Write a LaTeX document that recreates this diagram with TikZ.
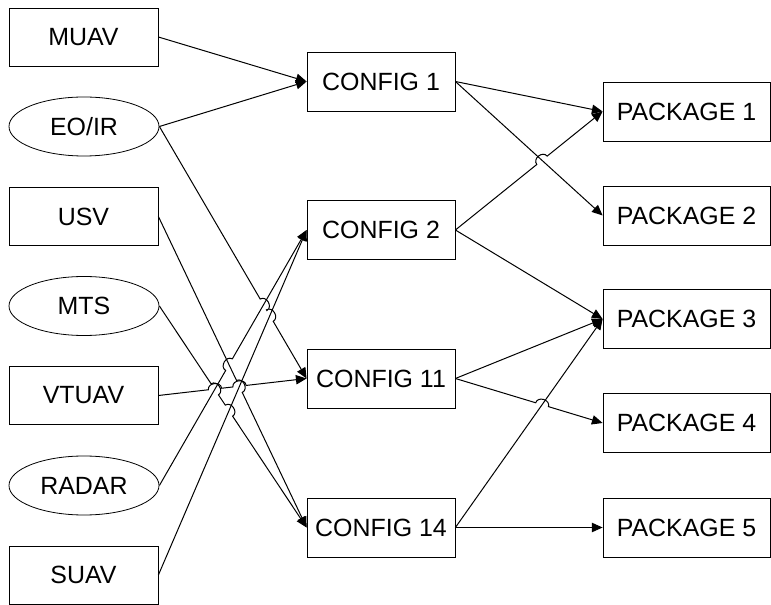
\documentclass[tikz,border=0pt]{standalone}
\usepackage{fontspec}
\setmainfont{Liberation Sans}
\usetikzlibrary{arrows.meta,shapes.geometric,calc,intersections}
\newcommand\hopr{5pt}
\begin{document}
\begin{tikzpicture}[x=0.75pt,y=-0.75pt,
  every node/.style={font=\fontsize{18.7pt}{22pt}\selectfont, inner sep=0pt},
  srcbox/.style={draw, line width=0.6pt, minimum width=111.75pt, minimum height=43.5pt},
  srcell/.style={draw, ellipse, line width=0.6pt, minimum width=112.5pt, minimum height=44.25pt},
  cfgbox/.style={draw, line width=0.6pt, minimum width=111pt, minimum height=44.25pt},
  pkgbox/.style={draw, line width=0.6pt, minimum width=125.25pt, minimum height=44.25pt},
  conn/.style={line width=0.75pt, -{Triangle[length=8pt,width=7pt]}},
  hop/.style={bend left=90, looseness=1.4}]
\useasboundingbox (0,0) rectangle (771,605);

% left column
\node[srcbox] (muav)  at (83.5,37)    {MUAV};
\node[srcell] (eoir)  at (84,126.5)   {EO/IR};
\node[srcbox] (usv)   at (83.5,216.5) {USV};
\node[srcell] (mts)   at (84,306)     {MTS};
\node[srcbox] (vtuav) at (83.5,395.5) {VTUAV};
\node[srcell] (radar) at (84,485.5)   {RADAR};
\node[srcbox] (suav)  at (83.5,575)   {SUAV};

% middle column
\node[cfgbox] (c1)  at (381,81.5)  {CONFIG 1};
\node[cfgbox] (c2)  at (381,230)   {CONFIG 2};
\node[cfgbox] (c11) at (381,378.5) {CONFIG 11};
\node[cfgbox] (c14) at (381,527.5) {CONFIG 14};

% right column
\node[pkgbox] (p1) at (686.5,111.5) {PACKAGE 1};
\node[pkgbox] (p2) at (686.5,215.5) {PACKAGE 2};
\node[pkgbox] (p3) at (686.5,319)   {PACKAGE 3};
\node[pkgbox] (p4) at (686.5,423)   {PACKAGE 4};
\node[pkgbox] (p5) at (686.5,527.5) {PACKAGE 5};

% invisible guide paths for crossings
\path[name path=l1] (eoir.east) -- (c11.west);
\path[name path=l2] (usv.east) -- (c14.west);
\path[name path=l3] (mts.east) -- (c14.west);
\path[name path=l4] (vtuav.east) -- (c11.west);
\path[name path=l5] (radar.east) -- (c2.west);
\path[name path=l6] (suav.east) -- (c2.west);
\path[name path=r2] (c1.east) -- (p2.west);
\path[name path=r3] (c2.east) -- (p1.west);
\path[name path=r6] (c11.east) -- (p4.west);
\path[name path=r7] (c14.east) -- (p3.west);

\path[name intersections={of=l1 and l5, by={x15}}];
\path[name intersections={of=l1 and l6, by={x16}}];
\path[name intersections={of=l2 and l5, by={x25}}];
\path[name intersections={of=l2 and l6, by={x26}}];
\path[name intersections={of=l3 and l5, by={x35}}];
\path[name intersections={of=l3 and l6, by={x36}}];
\path[name intersections={of=l4 and l5, by={x45}}];
\path[name intersections={of=l4 and l6, by={x46}}];
\path[name intersections={of=r2 and r3, by={y23}}];
\path[name intersections={of=r6 and r7, by={y67}}];

% left connectors
\draw[conn] (muav.east) -- (c1.west);
\draw[conn] (eoir.east) -- (c1.west);
\draw[conn] (eoir.east) -- ($(x15)!\hopr!(eoir.east)$) to[hop] ($(x15)!\hopr!(c11.west)$)
   -- ($(x16)!\hopr!(eoir.east)$) to[hop] ($(x16)!\hopr!(c11.west)$) -- (c11.west);
\draw[conn] (usv.east) -- ($(x26)!\hopr!(usv.east)$) to[hop] ($(x26)!\hopr!(c14.west)$) -- (c14.west);
\draw[conn] (mts.east) -- ($(x35)!\hopr!(mts.east)$) to[hop] ($(x35)!\hopr!(c14.west)$)
   -- ($(x36)!\hopr!(mts.east)$) to[hop] ($(x36)!\hopr!(c14.west)$) -- (c14.west);
\draw[conn] (vtuav.east) -- ($(x45)!\hopr!(vtuav.east)$) to[hop] ($(x45)!\hopr!(c11.west)$)
   -- ($(x46)!\hopr!(vtuav.east)$) to[hop] ($(x46)!\hopr!(c11.west)$) -- (c11.west);
\draw[conn] (radar.east) -- ($(x25)!\hopr!(radar.east)$) to[hop] ($(x25)!\hopr!(c2.west)$) -- (c2.west);
\draw[conn] (suav.east) -- (c2.west);

% right connectors
\draw[conn] (c1.east) -- (p1.west);
\draw[conn] (c1.east) -- (p2.west);
\draw[conn] (c2.east) -- ($(y23)!\hopr!(c2.east)$) to[hop] ($(y23)!\hopr!(p1.west)$) -- (p1.west);
\draw[conn] (c2.east) -- (p3.west);
\draw[conn] (c11.east) -- (p3.west);
\draw[conn] (c11.east) -- ($(y67)!\hopr!(c11.east)$) to[hop] ($(y67)!\hopr!(p4.west)$) -- (p4.west);
\draw[conn] (c14.east) -- (p3.west);
\draw[conn] (c14.east) -- (p5.west);
\end{tikzpicture}
\end{document}
